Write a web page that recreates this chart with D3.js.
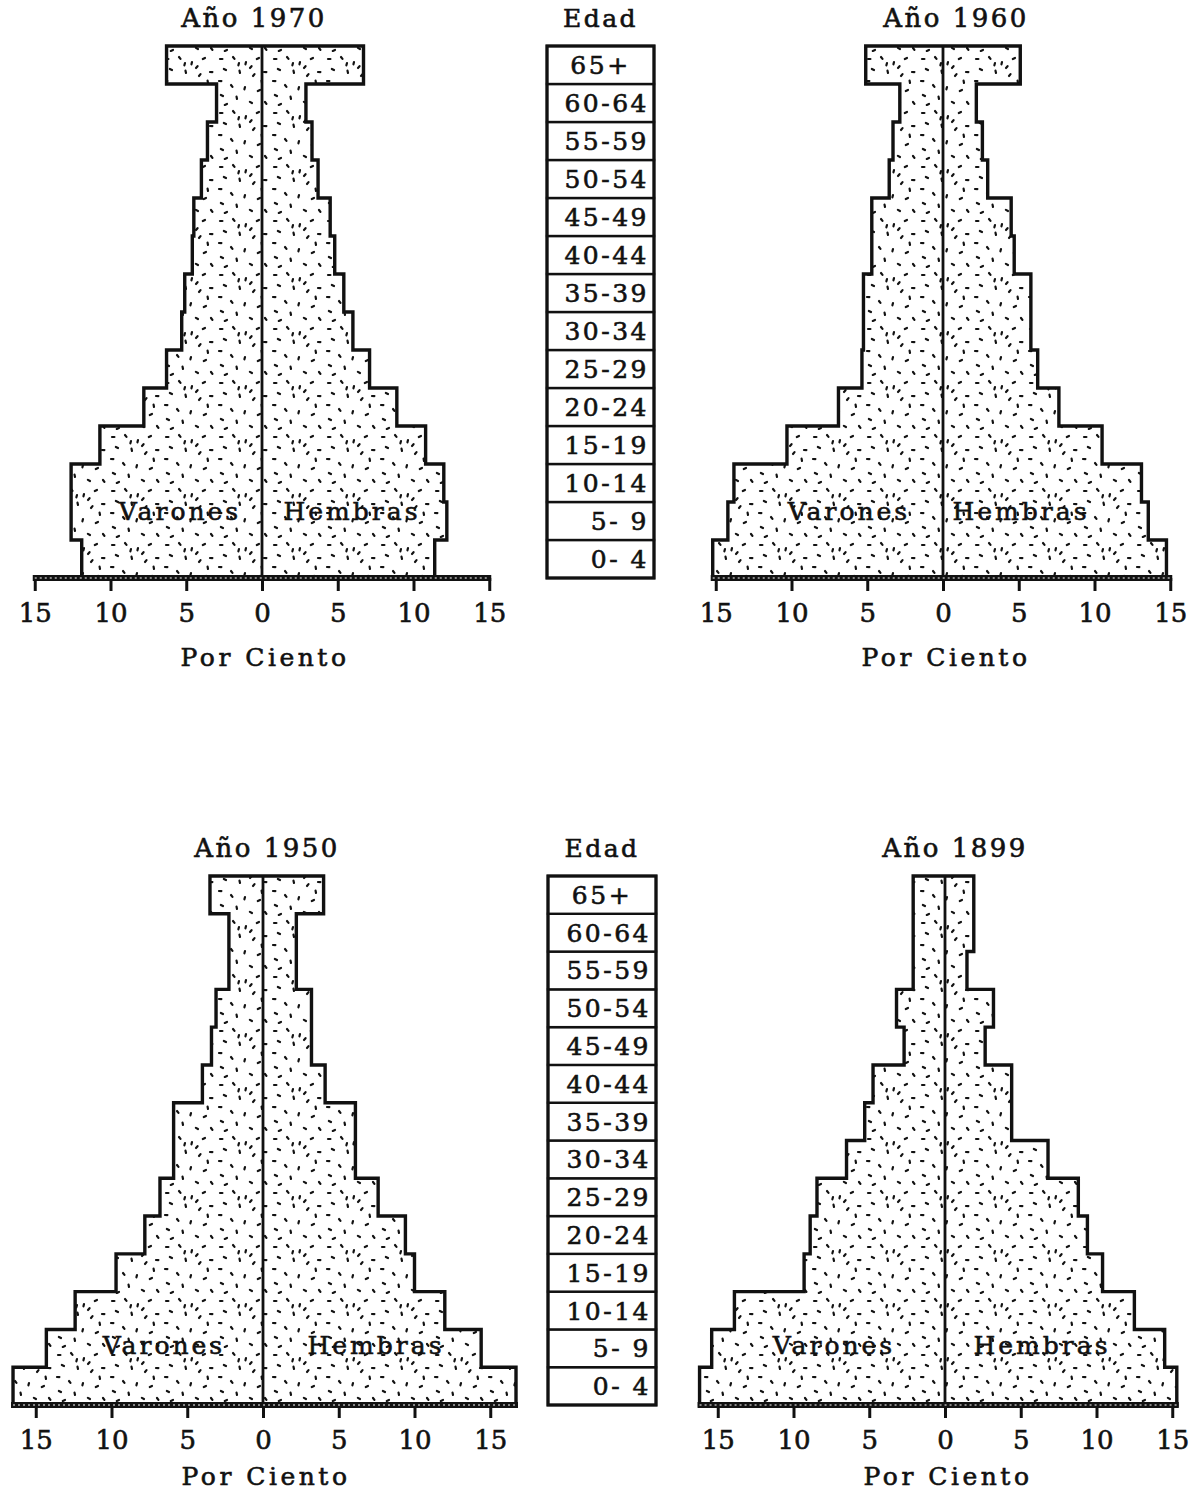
<!DOCTYPE html>
<html>
<head>
<meta charset="utf-8">
<title>Pirámides de población</title>
<script src="https://d3js.org/d3.v7.min.js"></script>
<style>
  body { margin: 0; background: #fff; }
  text { font-family: "DejaVu Serif", serif; fill: #111; stroke: #111; stroke-width: 0.6px; }
</style>
</head>
<body>
<script>
// grupos de edad, de abajo hacia arriba
const ages = ["0- 4", "5- 9", "10-14", "15-19", "20-24", "25-29", "30-34",
              "35-39", "40-44", "45-49", "50-54", "55-59", "60-64", "65+"];
const tickValues = [-15, -10, -5, 0, 5, 10, 15];
const titles = ["Año 1970", "Año 1960", "Año 1950", "Año 1899"];

// porcentajes (mismo orden que ages)
const varones1970 = [11.9, 12.6, 12.6, 10.7, 7.8, 6.3, 5.3, 5.1, 4.6, 4.5, 4.0, 3.6, 3.0, 6.3];
const hembras1970 = [11.4, 12.2, 12.0, 10.8, 8.9, 7.1, 6.0, 5.4, 4.8, 4.5, 3.7, 3.3, 2.9, 6.7];
const varones1960 = [15.2, 14.2, 13.8, 10.3, 6.9, 5.35, 5.25, 5.25, 4.7, 4.7, 3.55, 3.3, 2.85, 5.1];
const hembras1960 = [14.75, 13.55, 13.1, 10.5, 7.65, 6.25, 5.8, 5.8, 4.7, 4.5, 2.95, 2.6, 2.2, 5.1];
const varones1950 = [16.5, 14.3, 12.4, 9.7, 7.8, 6.8, 5.9, 5.9, 4.0, 3.4, 3.1, 2.25, 2.25, 3.5];
const hembras1950 = [16.7, 14.4, 12.0, 10.0, 9.4, 7.6, 6.1, 6.1, 4.1, 3.2, 3.2, 2.2, 2.2, 4.0];
const varones1899 = [16.2, 15.4, 13.9, 9.3, 8.9, 8.45, 6.5, 5.3, 4.75, 2.7, 3.2, 2.1, 2.1, 2.1];
const hembras1899 = [15.3, 14.5, 12.5, 10.4, 9.4, 8.8, 6.8, 4.4, 4.4, 2.65, 3.2, 1.45, 1.9, 1.9];

const width = 1194, height = 1498;
const pxPerPct = 15.15;

// posición de cada pirámide en la página
const panels = [
  { title: titles[0], men: varones1970, women: hembras1970, cx: 262, tx: 254, top: 46, axisY: 578, vx: -82, hx: 90, ly: 67, py: 88 },
  { title: titles[1], men: varones1960, women: hembras1960, cx: 943, tx: 956, top: 46, axisY: 578, vx: -94, hx: 78, ly: 67, py: 88 },
  { title: titles[2], men: varones1950, women: hembras1950, cx: 263, tx: 267, top: 876, axisY: 1405, vx: -99, hx: 113, ly: 60, py: 80 },
  { title: titles[3], men: varones1899, women: hembras1899, cx: 945, tx: 955, top: 876, axisY: 1405, vx: -111, hx: 97, ly: 60, py: 80 }
];
const edadCols = [
  { x0: 547, x1: 654, top: 46, axisY: 578 },
  { x0: 548, x1: 656, top: 876, axisY: 1405 }
];

const svg = d3.select("body").append("svg")
  .attr("width", width)
  .attr("height", height);

// punteado del relleno
const marks = [[4,5],[17,3],[30,8],[43,4],[10,16],[24,19],[37,22],[3,27],[15,31],[29,33],
               [44,36],[7,42],[21,45],[34,14],[48,18],[49,48],[23,9],[11,50],[36,49],[46,29]];
const pat = svg.append("defs").append("pattern")
  .attr("id", "stipple")
  .attr("patternUnits", "userSpaceOnUse")
  .attr("width", 54).attr("height", 54);
pat.append("rect").attr("width", 54).attr("height", 54).attr("fill", "#fff");
pat.selectAll("line").data(marks).enter().append("line")
  .attr("x1", d => d[0]).attr("y1", d => d[1])
  .attr("x2", (d, i) => d[0] + 2.4 * Math.cos(i * 0.9))
  .attr("y2", (d, i) => d[1] + 2.4 * Math.sin(i * 0.9))
  .attr("stroke", "#111").attr("stroke-width", 2.2).attr("stroke-linecap", "round");

panels.forEach(p => {
  const g = svg.append("g");
  const x = d3.scaleLinear().domain([-15, 15])
    .range([p.cx - 15 * pxPerPct, p.cx + 15 * pxPerPct]);
  const y = d3.scaleBand().domain(ages).range([p.axisY, p.top]);
  const bw = y.bandwidth();

  // contorno escalonado
  const pts = [];
  ages.forEach((a, i) => {
    pts.push([x(-p.men[i]), y(a) + bw]);
    pts.push([x(-p.men[i]), y(a)]);
  });
  ages.slice().reverse().forEach(a => {
    const i = ages.indexOf(a);
    pts.push([x(p.women[i]), y(a)]);
    pts.push([x(p.women[i]), y(a) + bw]);
  });
  g.append("path")
    .attr("d", d3.line()(pts) + "Z")
    .attr("fill", "url(#stipple)")
    .attr("stroke", "#111")
    .attr("stroke-width", 3.4)
    .attr("stroke-linejoin", "miter");

  // línea central
  g.append("line")
    .attr("x1", x(0)).attr("x2", x(0))
    .attr("y1", p.top).attr("y2", p.axisY)
    .attr("stroke", "#111").attr("stroke-width", 2.8);

  // eje
  const lo = Math.max(15, d3.max(p.men));
  const hi = Math.max(15, d3.max(p.women));
  const ax = g.append("g").attr("transform", `translate(0,${p.axisY})`)
    .call(d3.axisBottom(x).tickValues(tickValues).tickSize(13).tickPadding(13)
      .tickFormat(d => Math.abs(d)));
  ax.select(".domain").remove();
  ax.selectAll(".tick line").attr("stroke", "#111").attr("stroke-width", 3);
  ax.selectAll(".tick text")
    .attr("font-family", "DejaVu Serif").attr("font-size", 26)
    .attr("fill", "#111");
  g.append("rect")
    .attr("x", x(-lo) - 2).attr("width", x(hi) - x(-lo) + 4)
    .attr("y", p.axisY - 3).attr("height", 6)
    .attr("fill", "#111");
  g.append("line")
    .attr("x1", x(-lo)).attr("x2", x(hi))
    .attr("y1", p.axisY).attr("y2", p.axisY)
    .attr("stroke", "#fff").attr("stroke-width", 1.2)
    .attr("stroke-dasharray", "2 3");

  // textos
  g.append("text")
    .attr("x", p.tx).attr("y", p.top - 19)
    .attr("text-anchor", "middle")
    .attr("font-size", 26).attr("letter-spacing", 2.5)
    .text(p.title);
  g.append("text")
    .attr("x", p.cx + p.vx).attr("y", p.axisY - p.ly + 9)
    .attr("text-anchor", "middle")
    .attr("font-size", 25).attr("letter-spacing", 3)
    .text("Varones");
  g.append("text")
    .attr("x", p.cx + p.hx).attr("y", p.axisY - p.ly + 9)
    .attr("text-anchor", "middle")
    .attr("font-size", 25).attr("letter-spacing", 3)
    .text("Hembras");
  g.append("text")
    .attr("x", p.cx + 3).attr("y", p.axisY + p.py)
    .attr("text-anchor", "middle")
    .attr("font-size", 25).attr("letter-spacing", 3.5)
    .text("Por Ciento");
});

// columnas de edad
edadCols.forEach(c => {
  const g = svg.append("g");
  const y = d3.scaleBand().domain(ages).range([c.axisY, c.top]);
  g.selectAll("rect").data(ages).enter().append("rect")
    .attr("x", c.x0).attr("y", d => y(d))
    .attr("width", c.x1 - c.x0).attr("height", y.bandwidth())
    .attr("fill", "#fff").attr("stroke", "#111").attr("stroke-width", 2.4);
  g.append("rect")
    .attr("x", c.x0).attr("y", c.top)
    .attr("width", c.x1 - c.x0).attr("height", c.axisY - c.top)
    .attr("fill", "none").attr("stroke", "#111").attr("stroke-width", 3.2);
  g.selectAll("text.age").data(ages).enter().append("text")
    .attr("class", "age")
    .attr("x", d => d === "65+" ? (c.x0 + c.x1) / 2 : c.x1 - 5)
    .attr("y", d => y(d) + y.bandwidth() / 2 + 9)
    .attr("text-anchor", d => d === "65+" ? "middle" : "end")
    .attr("font-size", 25).attr("letter-spacing", 2.5)
    .style("white-space", "pre")
    .text(d => d);
  g.append("text")
    .attr("x", (c.x0 + c.x1) / 2).attr("y", c.top - 19)
    .attr("text-anchor", "middle")
    .attr("font-size", 25).attr("letter-spacing", 2.5)
    .text("Edad");
});
</script>
</body>
</html>
